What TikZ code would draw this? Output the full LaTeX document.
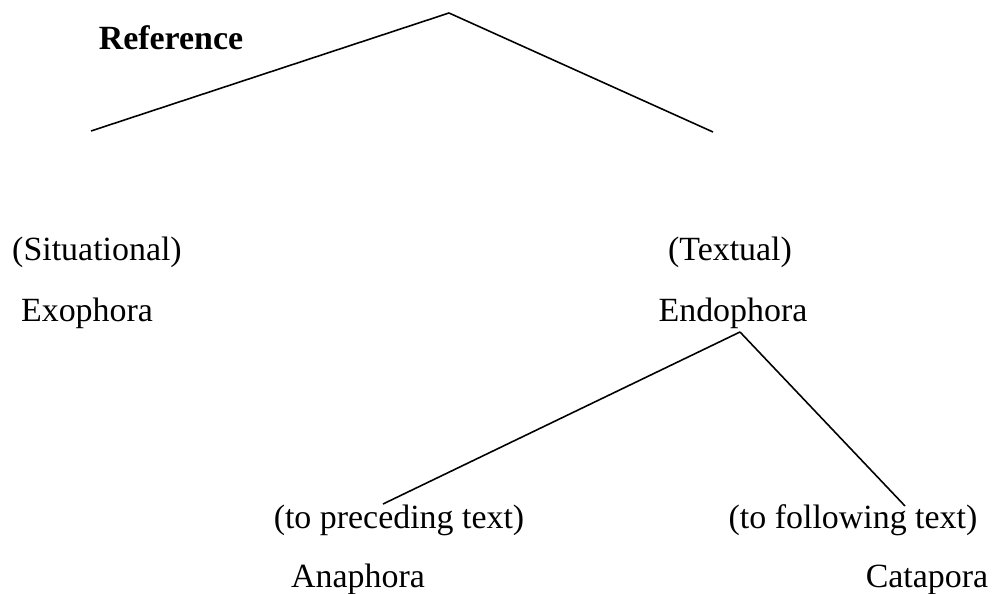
\documentclass[tikz,border=0pt]{standalone}
\usepackage{fontspec}
\setmainfont{Liberation Serif}
\usetikzlibrary{positioning}
\tikzset{
    word/.style={inner sep=0pt, anchor=base, font=\fontsize{19.3}{23}\selectfont},
}

\begin{document}
\begin{tikzpicture}[x=0.02cm, y=-0.02cm, line width=0.9pt]
    \useasboundingbox (0,0) rectangle (994,594);
    \node[word, font=\fontsize{19.3}{23}\selectfont\bfseries](ref) at (171,50) {Reference};
    \node[word](sit)    at (97,261)  {(Situational)};
    \node[word](exo)    at (87,322)  {Exophora};
    \node[word](tex)    at (730,261) {(Textual)};
    \node[word](endo)   at (733,322) {Endophora};
    \node[word](prec)   at (399,528) {(to preceding text)};
    \node[word](ana)    at (358,587) {Anaphora};
    \node[word](foll)   at (853,528) {(to following text)};
    \node[word](cata)   at (927,587) {Catapora};
    % Branch points
    \coordinate (top)   at (449,13);
    \coordinate (l*end) at (91,131);
    \coordinate (r*end) at (713,132);
    \coordinate (e*top) at (740,332);
    \coordinate (a*end) at (383,504);
    \coordinate (c*end) at (905,506);
    % Branches
    \path
        (top)
            edge (l*end)
            edge (r*end)
        (e*top)
            edge (a*end)
            edge (c*end)
        ;
\end{tikzpicture}
\end{document}
